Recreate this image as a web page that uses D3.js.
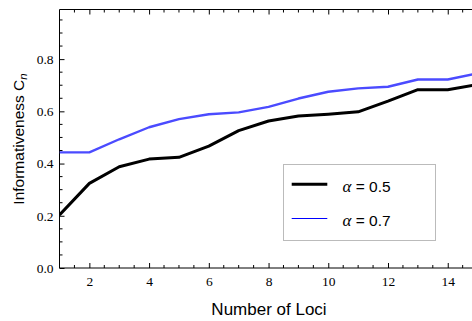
<!DOCTYPE html>
<html>
<head>
<meta charset="utf-8">
<script src="https://cdn.jsdelivr.net/npm/d3@7"></script>
<style>
  html, body { margin: 0; padding: 0; background: #fff; }
  svg { display: block; }
</style>
</head>
<body>
<svg id="chart" width="472" height="321"></svg>
<script>
// Informativeness C_n against number of loci, for two values of alpha
const loci = [1, 2, 3, 4, 5, 6, 7, 8, 9, 10, 11, 12, 13, 14, 15];
const alpha05 = [0.203, 0.324, 0.388, 0.417, 0.424, 0.467, 0.526, 0.563, 0.582, 0.589, 0.598, 0.639, 0.683, 0.683, 0.703];
const alpha07 = [0.443, 0.443, 0.493, 0.539, 0.570, 0.589, 0.596, 0.617, 0.649, 0.675, 0.688, 0.694, 0.722, 0.722, 0.745];
const xTicks = [2, 4, 6, 8, 10, 12, 14];
const yTicks = [0.0, 0.2, 0.4, 0.6, 0.8];
const seriesNames = ["0.5", "0.7"];

const svg = d3.select("#chart");
const plotLeft = 59.5, plotTop = 9.5, plotBottom = 268, plotRight = 477.6;

const x = d3.scaleLinear().domain([1, 15]).range([plotLeft, plotRight]);
const y = d3.scaleLinear().domain([0, 0.99]).range([plotBottom, plotTop]);

const serif = "'Liberation Serif', 'Times New Roman', serif";
const sans = "'Liberation Sans', Arial, sans-serif";

// frame lines (left, bottom, top)
const frame = svg.append("g").attr("stroke", "#000").attr("stroke-width", 1);
frame.append("line").attr("x1", plotLeft).attr("x2", plotLeft).attr("y1", plotTop).attr("y2", plotBottom);
frame.append("line").attr("x1", plotLeft).attr("x2", 480).attr("y1", plotBottom).attr("y2", plotBottom);
frame.append("line").attr("x1", plotLeft).attr("x2", 480).attr("y1", plotTop).attr("y2", plotTop);

// minor ticks
const xMinor = d3.range(1.5, 15.01, 0.5).filter(v => !xTicks.includes(v));
const yMinor = d3.range(0.05, 0.99, 0.05).map(v => +v.toFixed(2)).filter(v => !yTicks.some(t => Math.abs(t - v) < 1e-6));

// bottom axis, ticks pointing inward
const xAxis = svg.append("g").attr("transform", `translate(0,${plotBottom})`)
  .call(d3.axisBottom(x).tickValues(xTicks).tickSizeInner(-5).tickSizeOuter(0).tickPadding(8).tickFormat(d3.format("d")));
xAxis.select(".domain").remove();
xAxis.selectAll("text").attr("font-family", serif).attr("font-size", 13.5).attr("fill", "#000");
xAxis.selectAll(".minor").data(xMinor).enter().append("line")
  .attr("x1", d => x(d)).attr("x2", d => x(d)).attr("y1", 0).attr("y2", -3).attr("stroke", "#000");

// top axis ticks
const xTop = svg.append("g").attr("transform", `translate(0,${plotTop})`)
  .call(d3.axisTop(x).tickValues(xTicks).tickSizeInner(-5).tickSizeOuter(0).tickFormat(""));
xTop.select(".domain").remove();
xTop.selectAll(".minor").data(xMinor).enter().append("line")
  .attr("x1", d => x(d)).attr("x2", d => x(d)).attr("y1", 0).attr("y2", 3).attr("stroke", "#000");

// left axis
const yAxis = svg.append("g").attr("transform", `translate(${plotLeft},0)`)
  .call(d3.axisLeft(y).tickValues(yTicks).tickSizeInner(-5).tickSizeOuter(0).tickPadding(6).tickFormat(d3.format(".1f")));
yAxis.select(".domain").remove();
yAxis.selectAll("text").attr("font-family", serif).attr("font-size", 13.5).attr("fill", "#000");
yAxis.selectAll(".minor").data(yMinor).enter().append("line")
  .attr("x1", 0).attr("x2", 3).attr("y1", d => y(d)).attr("y2", d => y(d)).attr("stroke", "#000");

// data lines
svg.append("clipPath").attr("id", "plotclip").append("rect")
  .attr("x", plotLeft).attr("y", plotTop).attr("width", 480 - plotLeft).attr("height", plotBottom - plotTop);
const line = d3.line().x((d, i) => x(loci[i])).y(d => y(d));
const plot = svg.append("g").attr("clip-path", "url(#plotclip)");
plot.append("path").datum(alpha07).attr("d", line).attr("fill", "none")
  .attr("stroke", "#4b4bff").attr("stroke-width", 2.4).attr("stroke-linejoin", "round");
plot.append("path").datum(alpha05).attr("d", line).attr("fill", "none")
  .attr("stroke", "#000").attr("stroke-width", 3).attr("stroke-linejoin", "round");

// legend
const legend = svg.append("g");
legend.append("rect").attr("x", 283.5).attr("y", 164.5).attr("width", 152).attr("height", 76)
  .attr("fill", "#fff").attr("stroke", "#bbb").attr("stroke-width", 1);
const legendStyles = [{ color: "#000", width: 3, ly: 184.3 }, { color: "#0000ff", width: 1, ly: 218.5 }];
seriesNames.forEach((name, i) => {
  const s = legendStyles[i];
  legend.append("line").attr("x1", 291.7).attr("x2", 327.3).attr("y1", s.ly).attr("y2", s.ly)
    .attr("stroke", s.color).attr("stroke-width", s.width);
  const t = legend.append("text").attr("x", 342.5).attr("y", s.ly + 7.5)
    .attr("font-family", sans).attr("font-size", 15.5).attr("fill", "#000");
  t.append("tspan").attr("font-style", "italic").attr("font-family", serif).attr("font-size", 17).text("α");
  t.append("tspan").text(" = " + name);
});

// axis titles
svg.append("text").attr("x", 269).attr("y", 315).attr("text-anchor", "middle")
  .attr("font-family", sans).attr("font-size", 17).attr("fill", "#000").text("Number of Loci");
const yt = svg.append("text").attr("transform", "translate(23.5,139) rotate(-90)").attr("text-anchor", "middle")
  .attr("font-family", sans).attr("font-size", 15.5).attr("fill", "#000");
yt.append("tspan").text("Informativeness C");
yt.append("tspan").attr("font-style", "italic").attr("font-size", 11.5).attr("dy", 3).text("n");
</script>
</body>
</html>
